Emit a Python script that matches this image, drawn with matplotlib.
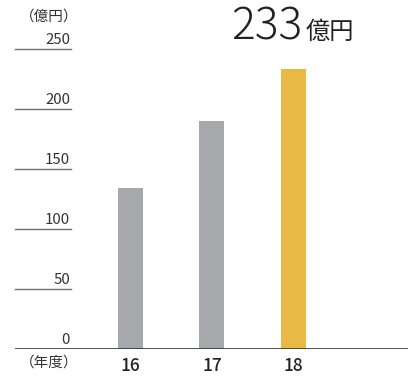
import matplotlib.pyplot as plt
import matplotlib.transforms as mtransforms

plt.rcParams['font.family'] = ['Noto Sans CJK JP', 'DejaVu Sans']

years = ["16", "17", "18"]
sales = [134, 190, 233]
bar_colors = ["#a7a8ab", "#a7a8ab", "#e8ba45"]
yticks = [0, 50, 100, 150, 200, 250]
highlight = "233"
unit = "億円"

W, H = 412, 378
fig = plt.figure(figsize=(W / 100, H / 100), dpi=100)
ax = fig.add_axes([15 / W, 29 / H, 393 / W, 300 / H])

xs = list(range(len(years)))
ax.bar(xs, sales, width=0.307, color=bar_colors, zorder=2)
ax.set_xlim(-1.417, 3.405)
ax.set_ylim(0, 250)

for s in ax.spines.values():
    s.set_visible(False)
ax.set_xticks([])
ax.set_yticks([])

# baseline
ax.axhline(0, color="#333333", lw=1.2, zorder=3)

# short underline ticks with values sitting on top
trans = mtransforms.blended_transform_factory(ax.transAxes, ax.transData)
for v in yticks:
    if v > 0:
        ax.plot([0, 0.1425], [v, v], color="#6e6e6e", lw=1.0, transform=trans,
                clip_on=False)
    ax.text(0.14, v + 2.0, str(v), transform=trans, ha="right", va="bottom",
            fontsize=10.8, color="#333333")

# year labels under the bars
for x, lab in zip(xs, years):
    ax.text(x, -14, lab, ha="center", va="center", fontsize=12.5,
            color="#222222", fontweight="medium")

fig.text(78 / W, 1 - 363 / H, "（年度）", ha="right", va="center",
         fontsize=10.5, color="#333333")
fig.text(78 / W, 1 - 17 / H, "（億円）", ha="right", va="center",
         fontsize=10.5, color="#333333")

fig.text(302 / W, 1 - 39 / H, highlight, ha="right", va="baseline",
         fontsize=32, color="#222222", fontweight="light")
fig.text(306 / W, 1 - 39 / H, unit, ha="left", va="baseline",
         fontsize=17.5, color="#222222")

fig.savefig("out.png", dpi=100)
